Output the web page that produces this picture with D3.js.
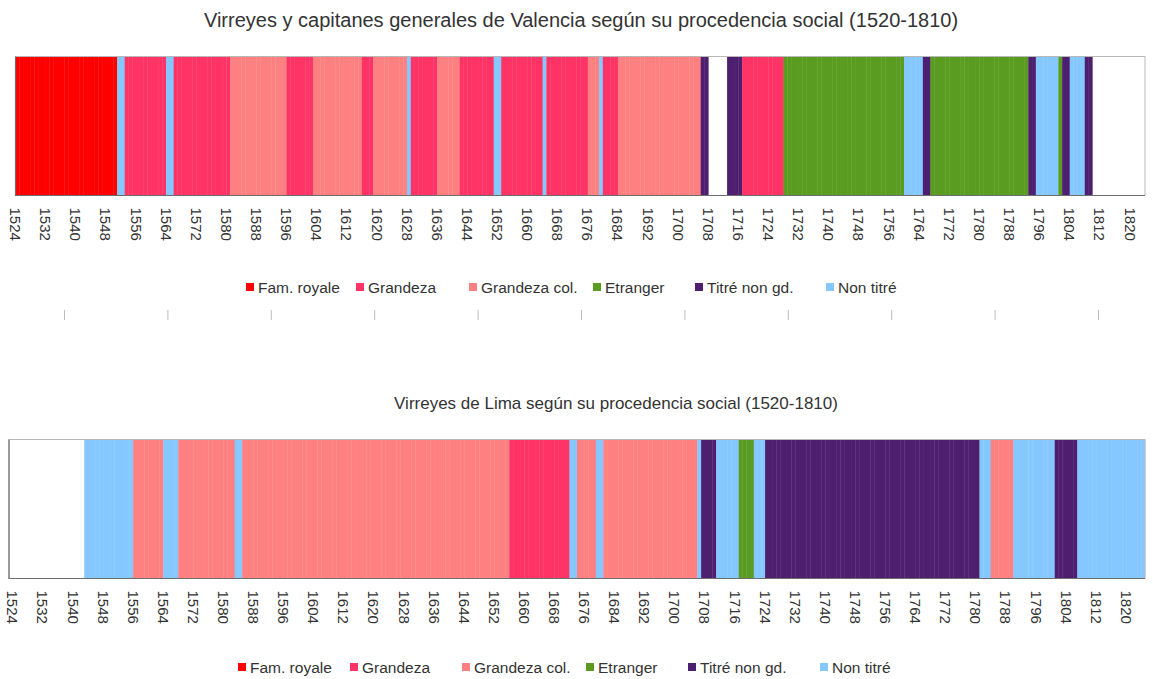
<!DOCTYPE html>
<html>
<head>
<meta charset="utf-8">
<script src="https://cdn.jsdelivr.net/npm/d3@7"></script>
<style>
  body { margin: 0; background: #fff; }
  text { font-family: "Liberation Sans", Arial, sans-serif; fill: #333; }
</style>
</head>
<body>
<div id="chart"></div>
<script>
// categories, in legend order
const categories = ["Fam. royale", "Grandeza", "Grandeza col.", "Etranger", "Titré non gd.", "Non titré"];
const catColors = ["#ff0000", "#ff3366", "#ff8080", "#5a9b21", "#4e1f6e", "#85c7ff"];

// Valencia: [first year, last year, category index]
const valenciaRuns = [
  [1524, 1550, 0], [1551, 1552, 5], [1553, 1563, 1], [1564, 1565, 5],
  [1566, 1580, 1], [1581, 1595, 2], [1596, 1602, 1], [1603, 1615, 2],
  [1616, 1618, 1], [1619, 1627, 2], [1628, 1628, 5], [1629, 1635, 1],
  [1636, 1641, 2], [1642, 1650, 1], [1651, 1652, 5], [1653, 1663, 1],
  [1664, 1664, 5], [1665, 1675, 1], [1676, 1678, 2], [1679, 1679, 5],
  [1680, 1683, 1], [1684, 1705, 2], [1706, 1707, 4], [1713, 1716, 4],
  [1717, 1727, 1], [1728, 1759, 3], [1760, 1764, 5], [1765, 1766, 4],
  [1767, 1792, 3], [1793, 1794, 4], [1795, 1800, 5], [1801, 1801, 3],
  [1802, 1803, 4], [1804, 1807, 5], [1808, 1809, 4]
];

// Lima: [first year, last year, category index]
const limaRuns = [
  [1543, 1555, 5], [1556, 1563, 2], [1564, 1567, 5], [1568, 1582, 2],
  [1583, 1584, 5], [1585, 1655, 2], [1656, 1671, 1], [1672, 1673, 5],
  [1674, 1678, 2], [1679, 1680, 5], [1681, 1705, 2], [1706, 1706, 5],
  [1707, 1710, 4], [1711, 1716, 5], [1717, 1720, 3], [1721, 1723, 5],
  [1724, 1780, 4], [1781, 1783, 5], [1784, 1789, 2], [1790, 1800, 5],
  [1801, 1806, 4], [1807, 1824, 5]
];

const tickYears = [1524, 1532, 1540, 1548, 1556, 1564, 1572, 1580, 1588, 1596,
  1604, 1612, 1620, 1628, 1636, 1644, 1652, 1660, 1668, 1676, 1684, 1692, 1700,
  1708, 1716, 1724, 1732, 1740, 1748, 1756, 1764, 1772, 1780, 1788, 1796, 1804,
  1812, 1820];

const W = 1153, H = 679;
const svg = d3.select("#chart").append("svg")
  .attr("width", W)
  .attr("height", H);

function drawPanel(opts) {
  const g = svg.append("g");

  // one band per year
  const x = d3.scaleBand()
    .domain(d3.range(opts.firstYear, opts.lastYear + 1))
    .range([opts.left, opts.right])
    .padding(0);

  g.append("text")
    .attr("x", opts.titleX)
    .attr("y", opts.titleY)
    .attr("text-anchor", "middle")
    .style("font-size", opts.titleSize)
    .text(opts.title);

  // expand each run into yearly bars
  const years = [];
  opts.runs.forEach(([a, b, c]) => {
    d3.range(a, b + 1).forEach((y) => years.push({ year: y, cat: c }));
  });

  g.selectAll("rect.yr")
    .data(years)
    .enter()
    .append("rect")
    .attr("class", "yr")
    .attr("x", (d) => x(d.year))
    .attr("y", opts.top)
    .attr("width", x.bandwidth() + 0.35) // small overlap, keeps seams faint
    .attr("height", opts.bottom - opts.top)
    .attr("fill", (d) => catColors[d.cat]);

  // frame
  g.append("rect")
    .attr("x", opts.left)
    .attr("y", opts.top)
    .attr("width", opts.right - opts.left)
    .attr("height", opts.bottom - opts.top)
    .attr("fill", "none")
    .attr("stroke", "#b8b8b8");
  g.append("path")
    .attr("d", `M${opts.left},${opts.top}V${opts.bottom}H${opts.right}`)
    .attr("fill", "none")
    .attr("stroke", "#6e6e6e")
    .attr("stroke-width", 1.2);

  // year labels, shifted so they sit at the start of the band
  const axis = g.append("g")
    .attr("transform", `translate(${-x.bandwidth() / 2},${opts.bottom + 12})`)
    .call(d3.axisBottom(x).tickValues(tickYears).tickSize(0).tickPadding(0));
  axis.select(".domain").remove();
  axis.selectAll("text")
    .attr("transform", "rotate(90)")
    .attr("x", 0)
    .attr("y", 0)
    .attr("dy", "0.36em")
    .attr("text-anchor", "start")
    .style("font-size", "15px")
    .style("font-family", "'Liberation Sans', Arial, sans-serif")
    .attr("fill", "#222");

  // legend
  const leg = g.append("g").attr("transform", `translate(0,${opts.legendY})`);
  const items = leg.selectAll("g")
    .data(categories)
    .enter()
    .append("g")
    .attr("transform", (d, i) => `translate(${opts.legendX[i]},0)`);
  items.append("rect")
    .attr("x", -12)
    .attr("y", -4)
    .attr("width", 8)
    .attr("height", 8)
    .attr("fill", (d, i) => catColors[i]);
  items.append("text")
    .attr("x", 0)
    .attr("dy", "0.36em")
    .style("font-size", "15.5px")
    .attr("fill", "#222")
    .text((d) => d);
}

drawPanel({
  title: "Virreyes y capitanes generales de Valencia según su procedencia social (1520-1810)",
  titleX: 581,
  titleY: 27,
  titleSize: "20px",
  runs: valenciaRuns,
  firstYear: 1524,
  lastYear: 1823,
  left: 15.5,
  right: 1145,
  top: 56.5,
  bottom: 195.5,
  legendY: 287,
  legendX: [258, 368, 481, 605, 707, 838]
});

drawPanel({
  title: "Virreyes de Lima según su procedencia social (1520-1810)",
  titleX: 616,
  titleY: 409,
  titleSize: "17px",
  runs: limaRuns,
  firstYear: 1523,
  lastYear: 1824,
  left: 9,
  right: 1145,
  top: 439.5,
  bottom: 578.5,
  legendY: 667,
  legendX: [250, 362, 474, 598, 700, 832]
});

// stray axis ticks between the two charts
const stray = d3.scalePoint()
  .domain(d3.range(11))
  .range([64, 1098]);
const strayAxis = svg.append("g")
  .attr("transform", "translate(0,310)")
  .call(d3.axisBottom(stray).tickSize(10).tickFormat(""));
strayAxis.select(".domain").remove();
strayAxis.selectAll("line").attr("stroke", "#bdbdbd");
</script>
</body>
</html>
